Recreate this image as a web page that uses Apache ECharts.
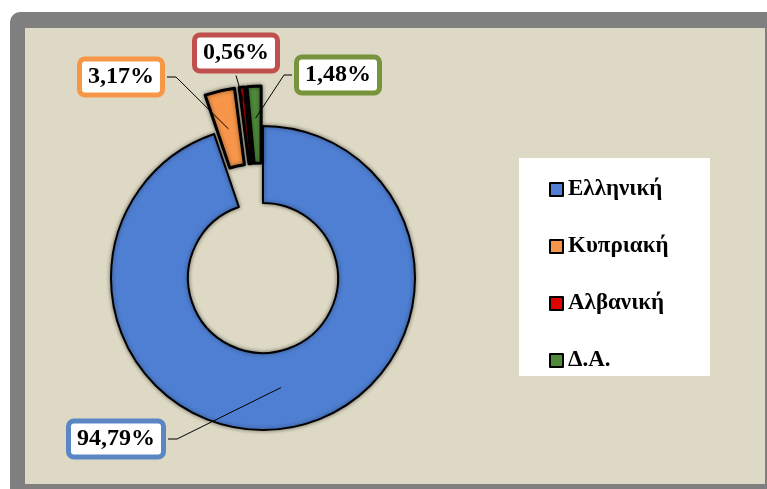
<!DOCTYPE html>
<html>
<head>
<meta charset="utf-8">
<script src="https://cdn.jsdelivr.net/npm/echarts@6/dist/echarts.min.js"></script>
<style>
    html, body { margin: 0; padding: 0; background: #fff; overflow: hidden; }
    .frame {
        position: absolute; left: 10px; top: 12px; width: 790px; height: 500px;
        background: #7f7f7f; border-radius: 10px;
    }
    .inner {
        position: absolute; left: 25px; top: 28px; width: 740px; height: 456px;
        background: #ddd9c4;
    }
    #chart { position: absolute; left: 0; top: 0; width: 767px; height: 489px; }
</style>
</head>
<body>
<div class="frame"></div>
<div class="inner"></div>
<div id="chart"></div>
<script>
    // data
    var categories = ['Ελληνική', 'Κυπριακή', 'Αλβανική', 'Δ.Α.']
    var values = [94.79, 3.17, 0.56, 1.48]
    var labels = ['94,79%', '3,17%', '0,56%', '1,48%']

    var colors = ['#4f7fd2', '#f7964a', '#e00000', '#4f8a3a']
    var boxColors = ['#5a87c4', '#f79646', '#c0504d', '#77933c']
    // where each label box sits, and which side of the box the leader line leaves from
    var labelPos = [[116, 439], [121, 77], [236, 53], [338, 75]]
    var lineSide = ['right', 'right', 'bottom', 'left']
    // how far past the slice's outer edge the leader line ends (negative = into the ring)
    var lineReach = [-41, 1, 26, 8]
    var boxHalf = []

    var myChart = echarts.init(document.getElementById('chart'))

    // visible ring, small slices pulled out
    var ringData = categories.map(function (name, i) {
        return {
            name: name,
            value: values[i],
            selected: i > 0,
            itemStyle: {color: colors[i], borderWidth: i > 0 ? 3 : 2}
        }
    })

    // same slices, drawn invisible, only to carry the labels
    var labelData = categories.map(function (name, i) {
        return {
            name: name,
            value: values[i],
            label: {
                formatter: labels[i],
                borderColor: boxColors[i]
            }
        }
    })

    var legendBox = {
        type: 'rect',
        shape: {x: 519, y: 158, width: 191, height: 218},
        style: {fill: '#fff'},
        silent: true,
        z: -1
    }

    var option = {
        animation: false,
        graphic: [legendBox],
        legend: {
            orient: 'vertical',
            left: 549,
            top: 178,
            padding: 0,
            itemWidth: 13,
            itemHeight: 13,
            itemGap: 34,
            icon: 'rect',
            selectedMode: false,
            data: categories,
            itemStyle: {borderWidth: 2},
            textStyle: {
                fontFamily: 'Liberation Serif',
                fontWeight: 'bold',
                fontSize: 23,
                lineHeight: 20,
                color: '#000'
            }
        },
        series: [
            {
                type: 'pie',
                center: [263, 278],
                radius: [75, 152],
                startAngle: 90,
                clockwise: true,
                selectedMode: 'multiple',
                selectedOffset: 40,
                emphasis: {disabled: true},
                itemStyle: {
                    borderColor: '#000',
                    borderWidth: 2,
                    shadowBlur: 4,
                    shadowColor: 'rgba(0,0,0,0.45)'
                },
                label: {show: false},
                labelLine: {show: false},
                data: ringData
            },
            {
                type: 'pie',
                silent: true,
                center: [263, 278],
                radius: [75, 152],
                startAngle: 90,
                clockwise: true,
                avoidLabelOverlap: false,
                emphasis: {disabled: true},
                itemStyle: {color: 'transparent', borderWidth: 0},
                z: 5,
                label: {
                    show: true,
                    position: 'outside',
                    fontFamily: 'Liberation Serif',
                    fontWeight: 'bold',
                    fontSize: 24,
                    color: '#000',
                    backgroundColor: '#fff',
                    borderWidth: 5,
                    borderRadius: 3,
                    padding: [5, 6, 2, 6]
                },
                labelLine: {show: false},
                labelLayout: function (p) {
                    var pos = labelPos[p.dataIndex]
                    boxHalf[p.dataIndex] = [p.labelRect.width / 2 + 2, p.labelRect.height / 2 + 2]
                    return {x: pos[0], y: pos[1], align: 'center', verticalAlign: 'middle'}
                },
                data: labelData
            }
        ]
    }
    myChart.setOption(option)

    // leader lines: from the label box to a point on the slice's middle ray
    function drawLeaders () {
        var data = myChart.getModel().getSeriesByIndex(1).getData()
        var lines = categories.map(function (name, i) {
            var lay = data.getItemLayout(i)
            var mid = (lay.startAngle + lay.endAngle) / 2
            var R = lay.r + lineReach[i]
            var end = [lay.cx + R * Math.cos(mid), lay.cy + R * Math.sin(mid)]
            var pos = labelPos[i]
            var half = boxHalf[i] || [45, 18]
            var start, elbow
            if (lineSide[i] === 'right') {
                start = [pos[0] + half[0], pos[1]]
                elbow = [pos[0] + half[0] + 9, pos[1]]
            } else if (lineSide[i] === 'left') {
                start = [pos[0] - half[0], pos[1]]
                elbow = [pos[0] - half[0] - 8, pos[1]]
            } else {
                start = [pos[0], pos[1] + half[1]]
                elbow = [pos[0], pos[1] + half[1]]
            }
            return {
                type: 'polyline',
                shape: {points: [start, elbow, end]},
                style: {stroke: '#000', lineWidth: 1, fill: null},
                silent: true,
                z: 3
            }
        })
        myChart.setOption({graphic: [legendBox].concat(lines)})
    }
    drawLeaders()
</script>
</body>
</html>
